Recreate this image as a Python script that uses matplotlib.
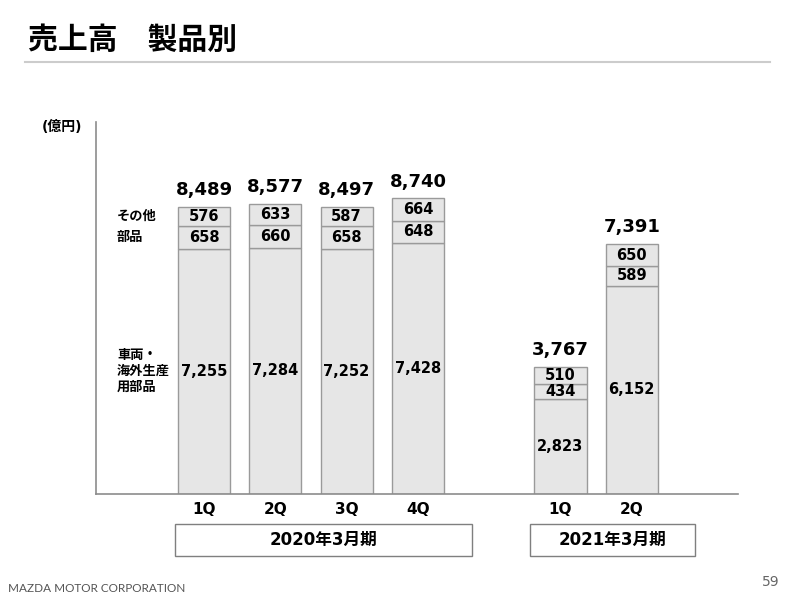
import matplotlib.pyplot as plt
from matplotlib.patches import Rectangle
from matplotlib.transforms import blended_transform_factory

plt.rcParams['font.family'] = ['DejaVu Sans', 'Noto Sans CJK JP']

# データ(億円)
quarters = ["1Q", "2Q", "3Q", "4Q", "1Q", "2Q"]
positions = [0, 1, 2, 3, 5, 6]
vehicles = [7255, 7284, 7252, 7428, 2823, 6152]
parts = [658, 660, 658, 648, 434, 589]
others = [576, 633, 587, 664, 510, 650]
totals = [8489, 8577, 8497, 8740, 3767, 7391]
segment_names = ["車両・\n海外生産\n用部品", "部品", "その他"]
periods = ["2020年3月期", "2021年3月期"]

FILL = "#e6e6e6"
EDGE = "#9a9a9a"
W = 0.73

fig = plt.figure(figsize=(8, 6), dpi=100)
ax = fig.add_axes([0.12, 0.1767, 0.8025, 0.62])

bottom2 = [v + p for v, p in zip(vehicles, parts)]
ax.bar(positions, vehicles, W, color=FILL, edgecolor=EDGE, linewidth=1)
ax.bar(positions, parts, W, bottom=vehicles, color=FILL, edgecolor=EDGE, linewidth=1)
ax.bar(positions, others, W, bottom=bottom2, color=FILL, edgecolor=EDGE, linewidth=1)

for x, v, p, o, t in zip(positions, vehicles, parts, others, totals):
    ax.text(x, v / 2, f"{v:,}", ha="center", va="center", fontsize=10.5, fontweight="bold")
    ax.text(x, v + p / 2, f"{p:,}", ha="center", va="center", fontsize=10.5, fontweight="bold")
    ax.text(x, v + p + o / 2, f"{o:,}", ha="center", va="center", fontsize=10.5, fontweight="bold")
    ax.text(x, t + 230, f"{t:,}", ha="center", va="bottom", fontsize=13, fontweight="bold")

# 凡例ラベル(左側)
seg_y = [vehicles[0] / 2, vehicles[0] + parts[0] / 2, bottom2[0] + others[0] / 2]
for name, y in zip(segment_names, seg_y):
    ax.text(-1.22, y, name, ha="left", va="center", fontsize=9.5, fontweight="bold",
            linespacing=1.3)

ax.set_xlim(-1.515, 7.49)
ax.set_ylim(0, 11000)
ax.set_xticks(positions)
ax.set_xticklabels(quarters, fontsize=11, fontweight="bold")
ax.tick_params(length=0, pad=6)
ax.set_yticks([])
for s in ["top", "right"]:
    ax.spines[s].set_visible(False)
for s in ["left", "bottom"]:
    ax.spines[s].set_color("#8c8c8c")
    ax.spines[s].set_linewidth(1.2)

# 期間ボックス
tr = blended_transform_factory(ax.transData, fig.transFigure)
for (x0, x1), label in zip([(-0.41, 3.76), (4.57, 6.89)], periods):
    ax.add_patch(Rectangle((x0, 1 - 556 / 600), x1 - x0, 32 / 600, transform=tr,
                           facecolor="white", edgecolor="#7f7f7f", linewidth=1, clip_on=False))
    ax.text((x0 + x1) / 2, 1 - 540 / 600, label, transform=tr, ha="center", va="center",
            fontsize=12, fontweight="bold")

# タイトル
fig.text(28 / 800, 1 - 40 / 600, "売上高　製品別", fontsize=21.5, fontweight="bold",
         va="center", ha="left")
fig.add_artist(plt.Line2D([25 / 800, 770 / 800], [1 - 62 / 600] * 2, color="#cccccc",
                          linewidth=1.5, transform=fig.transFigure))
fig.text(42 / 800, 1 - 127 / 600, "(億円)", fontsize=10, fontweight="bold",
         va="center", ha="left")

# フッター
fig.text(8 / 800, 1 - 588 / 600, "MAZDA MOTOR CORPORATION", family="Lato",
         fontsize=8.5, color="#555555", va="center", ha="left")
fig.text(780 / 800, 1 - 582 / 600, "59", fontsize=10, color="#666666", va="center", ha="right")

fig.savefig("out.png", dpi=100)
